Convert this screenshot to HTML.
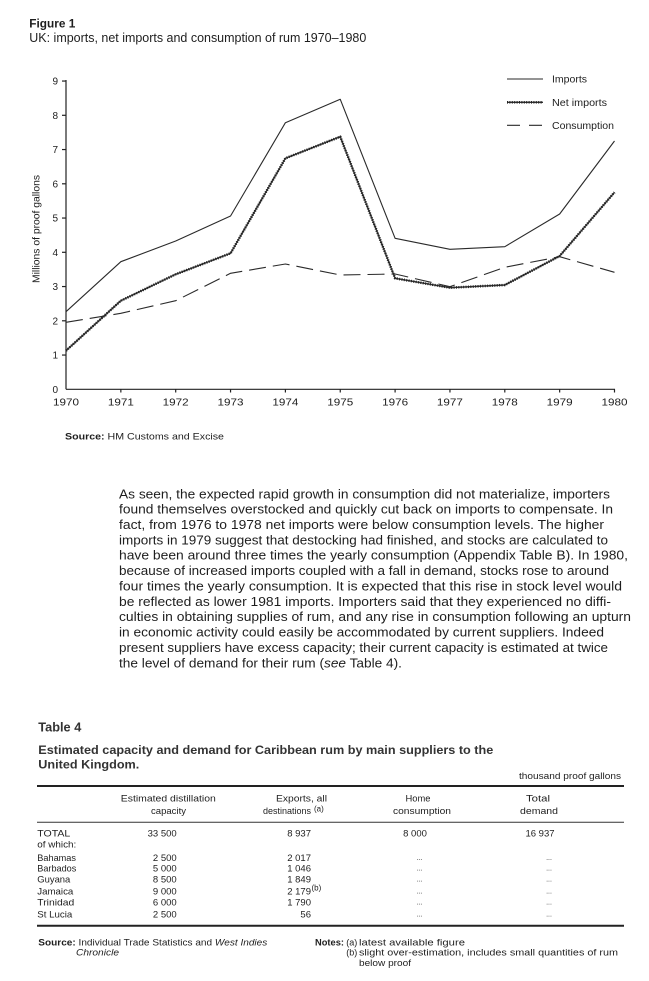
<!DOCTYPE html>
<html>
<head>
<meta charset="utf-8">
<style>
  html,body{margin:0;padding:0;background:#fff;}
  svg{display:block;}
  text{font-family:"Liberation Sans",Arial,sans-serif;fill:#1e1e1e;}
</style>
</head>
<body>
<svg width="649" height="981" viewBox="0 0 649 981" xmlns="http://www.w3.org/2000/svg">
  <rect width="649" height="981" fill="#ffffff"/>

  <!-- Figure titles -->
  <text x="29.3" y="27.5" font-size="11.5" font-weight="bold" textLength="46" lengthAdjust="spacingAndGlyphs">Figure 1</text>
  <text x="29.3" y="42" font-size="12.5" textLength="337" lengthAdjust="spacingAndGlyphs">UK: imports, net imports and consumption of rum 1970–1980</text>

  <!-- Y axis title -->
  <text transform="translate(39.3,229) rotate(-90)" x="0" y="0" font-size="10" text-anchor="middle" textLength="108" lengthAdjust="spacingAndGlyphs">Millions of proof gallons</text>

  <!-- Axes -->
  <g stroke="#222" stroke-width="1.2" fill="none">
    <line x1="66" y1="80" x2="66" y2="389.3"/>
    <line x1="66" y1="389.3" x2="615" y2="389.3"/>
    <line x1="62" y1="81.05" x2="66" y2="81.05"/>
    <line x1="62" y1="115.3" x2="66" y2="115.3"/>
    <line x1="62" y1="149.55" x2="66" y2="149.55"/>
    <line x1="62" y1="183.8" x2="66" y2="183.8"/>
    <line x1="62" y1="218.05" x2="66" y2="218.05"/>
    <line x1="62" y1="252.3" x2="66" y2="252.3"/>
    <line x1="62" y1="286.55" x2="66" y2="286.55"/>
    <line x1="62" y1="320.8" x2="66" y2="320.8"/>
    <line x1="62" y1="355.05" x2="66" y2="355.05"/>
    <line x1="120.85" y1="389.3" x2="120.85" y2="392.5"/>
    <line x1="175.7" y1="389.3" x2="175.7" y2="392.5"/>
    <line x1="230.55" y1="389.3" x2="230.55" y2="392.5"/>
    <line x1="285.4" y1="389.3" x2="285.4" y2="392.5"/>
    <line x1="340.25" y1="389.3" x2="340.25" y2="392.5"/>
    <line x1="395.1" y1="389.3" x2="395.1" y2="392.5"/>
    <line x1="449.95" y1="389.3" x2="449.95" y2="392.5"/>
    <line x1="504.8" y1="389.3" x2="504.8" y2="392.5"/>
    <line x1="559.65" y1="389.3" x2="559.65" y2="392.5"/>
    <line x1="614.5" y1="389.3" x2="614.5" y2="392.5"/>
  </g>

  <!-- Y tick labels -->
  <g font-size="10" text-anchor="end">
    <text x="58" y="84.6">9</text>
    <text x="58" y="118.8">8</text>
    <text x="58" y="153">7</text>
    <text x="58" y="187.3">6</text>
    <text x="58" y="221.5">5</text>
    <text x="58" y="255.8">4</text>
    <text x="58" y="290">3</text>
    <text x="58" y="324.3">2</text>
    <text x="58" y="358.5">1</text>
    <text x="58" y="392.8">0</text>
  </g>

  <!-- X tick labels -->
  <g font-size="10" text-anchor="middle">
    <text x="66" y="405.3" textLength="26" lengthAdjust="spacingAndGlyphs">1970</text>
    <text x="120.85" y="405.3" textLength="26" lengthAdjust="spacingAndGlyphs">1971</text>
    <text x="175.7" y="405.3" textLength="26" lengthAdjust="spacingAndGlyphs">1972</text>
    <text x="230.55" y="405.3" textLength="26" lengthAdjust="spacingAndGlyphs">1973</text>
    <text x="285.4" y="405.3" textLength="26" lengthAdjust="spacingAndGlyphs">1974</text>
    <text x="340.25" y="405.3" textLength="26" lengthAdjust="spacingAndGlyphs">1975</text>
    <text x="395.1" y="405.3" textLength="26" lengthAdjust="spacingAndGlyphs">1976</text>
    <text x="449.95" y="405.3" textLength="26" lengthAdjust="spacingAndGlyphs">1977</text>
    <text x="504.8" y="405.3" textLength="26" lengthAdjust="spacingAndGlyphs">1978</text>
    <text x="559.65" y="405.3" textLength="26" lengthAdjust="spacingAndGlyphs">1979</text>
    <text x="614.5" y="405.3" textLength="26" lengthAdjust="spacingAndGlyphs">1980</text>
  </g>

  <!-- Series: Imports -->
  <polyline fill="none" stroke="#2a2a2a" stroke-width="1.1" stroke-linejoin="round"
    points="66,311.7 120.85,261.7 175.7,241 230.55,216 285.4,122.7 340.25,99.3 395.1,238.3 449.95,249.3 504.8,246.7 559.65,214 614.5,141"/>

  <!-- Series: Net imports -->
  <polyline fill="none" stroke="#333" stroke-width="1.4" stroke-linejoin="round"
    points="66,350.7 120.85,300.7 175.7,274.3 230.55,253.3 285.4,158.3 340.25,136.7 395.1,278.3 449.95,287.7 504.8,285 559.65,256 614.5,192.3"/>
  <polyline fill="none" stroke="#222" stroke-width="2.6" stroke-dasharray="1 1.4" stroke-linejoin="round"
    points="66,350.7 120.85,300.7 175.7,274.3 230.55,253.3 285.4,158.3 340.25,136.7 395.1,278.3 449.95,287.7 504.8,285 559.65,256 614.5,192.3"/>

  <!-- Series: Consumption -->
  <polyline fill="none" stroke="#2a2a2a" stroke-width="1.1" stroke-dasharray="17 7" stroke-linejoin="round"
    points="66,322.3 120.85,313.3 175.7,300.7 230.55,273.3 285.4,264 340.25,275 395.1,274 449.95,286.7 504.8,267.3 559.65,256.7 614.5,272.3"/>

  <!-- Legend -->
  <line x1="507" y1="79" x2="543" y2="79" stroke="#2a2a2a" stroke-width="1.1"/>
  <line x1="507" y1="102.3" x2="543" y2="102.3" stroke="#333" stroke-width="1.4"/>
  <line x1="507" y1="102.3" x2="543" y2="102.3" stroke="#222" stroke-width="2.6" stroke-dasharray="1 1.4"/>
  <line x1="507" y1="125.3" x2="543" y2="125.3" stroke="#2a2a2a" stroke-width="1.1" stroke-dasharray="13 9"/>
  <g font-size="10">
    <text x="552" y="82.5" textLength="35" lengthAdjust="spacingAndGlyphs">Imports</text>
    <text x="552" y="105.8" textLength="55" lengthAdjust="spacingAndGlyphs">Net imports</text>
    <text x="552" y="128.8" textLength="62" lengthAdjust="spacingAndGlyphs">Consumption</text>
  </g>

  <!-- Chart source -->
  <text x="65" y="439.5" font-size="9.5" textLength="159" lengthAdjust="spacingAndGlyphs"><tspan font-weight="bold">Source:</tspan> HM Customs and Excise</text>

  <!-- Paragraph -->
  <g font-size="12.5">
    <text x="119" y="498.3" textLength="491" lengthAdjust="spacingAndGlyphs">As seen, the expected rapid growth in consumption did not materialize, importers</text>
    <text x="119" y="513.7" textLength="494" lengthAdjust="spacingAndGlyphs">found themselves overstocked and quickly cut back on imports to compensate.  In</text>
    <text x="119" y="529" textLength="485" lengthAdjust="spacingAndGlyphs">fact, from 1976 to 1978 net imports were below consumption levels.  The higher</text>
    <text x="119" y="544.4" textLength="489" lengthAdjust="spacingAndGlyphs">imports in 1979 suggest that destocking had finished, and stocks are calculated to</text>
    <text x="119" y="559.7" textLength="509" lengthAdjust="spacingAndGlyphs">have been around three times the yearly consumption (Appendix Table B).  In 1980,</text>
    <text x="119" y="575.1" textLength="490" lengthAdjust="spacingAndGlyphs">because of increased imports coupled with a fall in demand, stocks rose to around</text>
    <text x="119" y="590.5" textLength="503" lengthAdjust="spacingAndGlyphs">four times the yearly consumption.  It is expected that this rise in stock level would</text>
    <text x="119" y="605.8" textLength="492" lengthAdjust="spacingAndGlyphs">be reflected as lower 1981 imports.  Importers said that they experienced no diffi-</text>
    <text x="119" y="621.2" textLength="512" lengthAdjust="spacingAndGlyphs">culties in obtaining supplies of rum, and any rise in consumption following an upturn</text>
    <text x="119" y="636.5" textLength="485" lengthAdjust="spacingAndGlyphs">in economic activity could easily be accommodated by current suppliers.  Indeed</text>
    <text x="119" y="651.9" textLength="489" lengthAdjust="spacingAndGlyphs">present suppliers have excess capacity; their current capacity is estimated at twice</text>
    <text x="119" y="667.3" textLength="283" lengthAdjust="spacingAndGlyphs">the level of demand for their rum (<tspan font-style="italic">see</tspan> Table 4).</text>
  </g>

  <!-- Table 4 -->
  <text x="38.3" y="731.7" font-size="12.5" font-weight="bold" textLength="43" lengthAdjust="spacingAndGlyphs" style="fill:#333">Table 4</text>
  <text x="38.3" y="754" font-size="12" font-weight="bold" textLength="455" lengthAdjust="spacingAndGlyphs" style="fill:#333">Estimated capacity and demand for Caribbean rum by main suppliers to the</text>
  <text x="38.3" y="768.3" font-size="12" font-weight="bold" textLength="101" lengthAdjust="spacingAndGlyphs" style="fill:#333">United Kingdom.</text>
  <text x="519" y="779" font-size="8.8" textLength="102" lengthAdjust="spacingAndGlyphs">thousand proof gallons</text>

  <line x1="37" y1="786" x2="624" y2="786" stroke="#222" stroke-width="2"/>
  <line x1="37" y1="822.3" x2="624" y2="822.3" stroke="#333" stroke-width="1"/>
  <line x1="37" y1="925.7" x2="624" y2="925.7" stroke="#222" stroke-width="2"/>

  <g font-size="9" text-anchor="middle">
    <text x="168.3" y="801.7" textLength="95" lengthAdjust="spacingAndGlyphs">Estimated distillation</text>
    <text x="168.5" y="814" textLength="35" lengthAdjust="spacingAndGlyphs">capacity</text>
    <text x="301.5" y="801.7" textLength="51" lengthAdjust="spacingAndGlyphs">Exports, all</text>
    <text x="287" y="814" textLength="48" lengthAdjust="spacingAndGlyphs">destinations</text>
    <text x="418" y="801.7" textLength="25" lengthAdjust="spacingAndGlyphs">Home</text>
    <text x="422" y="814" textLength="58" lengthAdjust="spacingAndGlyphs">consumption</text>
    <text x="538" y="801.7" textLength="24" lengthAdjust="spacingAndGlyphs">Total</text>
    <text x="539" y="814" textLength="38" lengthAdjust="spacingAndGlyphs">demand</text>
  </g>
  <text x="314" y="811.5" font-size="8">(a)</text>

  <!-- Row labels -->
  <g font-size="9.2">
    <text x="37.3" y="836.7" textLength="33" lengthAdjust="spacingAndGlyphs">TOTAL</text>
    <text x="37.3" y="847.7" textLength="39" lengthAdjust="spacingAndGlyphs">of which:</text>
    <text x="37.3" y="861" textLength="38.7" lengthAdjust="spacingAndGlyphs">Bahamas</text>
    <text x="37.3" y="871.7" textLength="39" lengthAdjust="spacingAndGlyphs">Barbados</text>
    <text x="37.3" y="882.7" textLength="33" lengthAdjust="spacingAndGlyphs">Guyana</text>
    <text x="37.3" y="894.3" textLength="36" lengthAdjust="spacingAndGlyphs">Jamaica</text>
    <text x="37.3" y="905.7" textLength="37" lengthAdjust="spacingAndGlyphs">Trinidad</text>
    <text x="37.3" y="917.3" textLength="35" lengthAdjust="spacingAndGlyphs">St Lucia</text>
  </g>

  <!-- Capacity column -->
  <g font-size="9.5" text-anchor="end">
    <text x="176.7" y="836.7">33 500</text>
    <text x="176.7" y="861">2 500</text>
    <text x="176.7" y="871.7">5 000</text>
    <text x="176.7" y="882.7">8 500</text>
    <text x="176.7" y="894.3">9 000</text>
    <text x="176.7" y="905.7">6 000</text>
    <text x="176.7" y="917.3">2 500</text>
  </g>
  <!-- Exports column -->
  <g font-size="9.5" text-anchor="end">
    <text x="311" y="836.7">8 937</text>
    <text x="311" y="861">2 017</text>
    <text x="311" y="871.7">1 046</text>
    <text x="311" y="882.7">1 849</text>
    <text x="311" y="894.3">2 179</text>
    <text x="311" y="905.7">1 790</text>
    <text x="311" y="917.3">56</text>
  </g>
  <text x="311.5" y="890.5" font-size="8">(b)</text>

  <!-- Home & Total -->
  <g font-size="9.5" text-anchor="middle">
    <text x="415" y="836.7">8 000</text>
    <text x="540" y="836.7">16 937</text>
  </g>
  <g font-size="7" text-anchor="middle" style="fill:#444">
    <text x="419.7" y="860">...</text>
    <text x="419.7" y="870.7">...</text>
    <text x="419.7" y="881.7">...</text>
    <text x="419.7" y="893.3">...</text>
    <text x="419.7" y="904.7">...</text>
    <text x="419.7" y="916.3">...</text>
    <text x="549" y="860">...</text>
    <text x="549" y="870.7">...</text>
    <text x="549" y="881.7">...</text>
    <text x="549" y="893.3">...</text>
    <text x="549" y="904.7">...</text>
    <text x="549" y="916.3">...</text>
  </g>

  <!-- Table source & notes -->
  <text x="38.3" y="945.7" font-size="9" textLength="229" lengthAdjust="spacingAndGlyphs"><tspan font-weight="bold">Source:</tspan> Individual Trade Statistics and <tspan font-style="italic">West Indies</tspan></text>
  <text x="76" y="955.7" font-size="9" font-style="italic" textLength="43" lengthAdjust="spacingAndGlyphs">Chronicle</text>

  <text x="315" y="945.7" font-size="9" font-weight="bold" textLength="29" lengthAdjust="spacingAndGlyphs">Notes:</text>
  <g font-size="9">
    <text x="346.3" y="945.7">(a)</text>
    <text x="359" y="945.7" textLength="106" lengthAdjust="spacingAndGlyphs">latest available figure</text>
    <text x="346.3" y="955.7">(b)</text>
    <text x="359" y="955.7" textLength="259" lengthAdjust="spacingAndGlyphs">slight over-estimation, includes small quantities of rum</text>
    <text x="359" y="966" textLength="52" lengthAdjust="spacingAndGlyphs">below proof</text>
  </g>
</svg>
</body>
</html>
